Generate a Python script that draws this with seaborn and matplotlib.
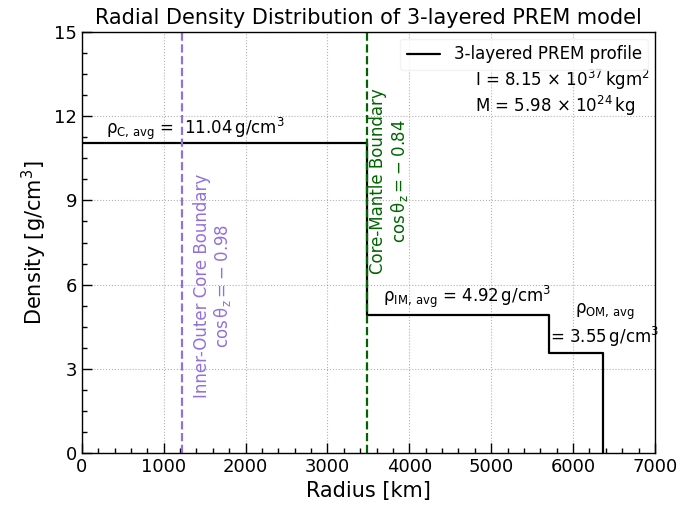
import matplotlib
matplotlib.use('Agg')
import matplotlib.pyplot as plt
import numpy as np
import pandas as pd
import seaborn as sns
from matplotlib.ticker import AutoMinorLocator, MultipleLocator

# PREM 3-layer step profile
radius = [0, 3480, 5701, 6371]
density = [11.04, 4.92, 3.55, 0.0]
r_ioc = 1221.5   # inner-outer core boundary
r_cmb = 3480     # core-mantle boundary
label_ioc = 'Inner-Outer Core Boundary\n' + r'$\cos\theta_z = -\;0.98$'
label_cmb = 'Core-Mantle Boundary\n' + r'$\cos\theta_z = -\;0.84$'
rho_labels = [r'$\rho_{\rm C,\,avg}$ =  11.04$\,$g/cm$^3$',
              r'$\rho_{\rm IM,\,avg}$ = 4.92$\,$g/cm$^3$',
              r'$\rho_{\rm OM,\,avg}$' + '\n' + r'= 3.55$\,$g/cm$^3$']

df = pd.DataFrame({'Radius': radius, 'Density': density})

sns.set_style('ticks')
plt.rcParams['font.family'] = ['DejaVu Sans']
plt.rcParams['mathtext.default'] = 'regular'
for k in ['text.color', 'axes.labelcolor', 'xtick.color', 'ytick.color']:
    plt.rcParams[k] = 'black'

fig = plt.figure(figsize=(6.88, 5.09), dpi=100)
ax = fig.add_axes([0.119, 0.110, 0.833, 0.827])

sns.lineplot(data=df, x='Radius', y='Density', drawstyle='steps-post',
             sort=False, estimator=None, color='black', lw=1.6,
             label='3-layered PREM profile', ax=ax)

ax.axvline(r_ioc, color='mediumpurple', ls='--', lw=1.6)
ax.axvline(r_cmb, color='darkgreen', ls='--', lw=1.6)

ax.text(1600, 5.95, label_ioc, rotation=90, color='mediumpurple',
        ha='center', va='center', fontsize=12, linespacing=1.1)
ax.text(3760, 9.7, label_cmb, rotation=90, color='darkgreen',
        ha='center', va='center', fontsize=12, linespacing=1.1)

ax.text(290, 11.1, rho_labels[0], fontsize=12, ha='left', va='bottom')
ax.text(3680, 5.1, rho_labels[1], fontsize=12, ha='left', va='bottom')
ax.text(6390, 4.55, rho_labels[2], fontsize=12, ha='center', va='center',
        linespacing=1.2)

ax.text(4800, 13.3, r'I = 8.15 $\times$ 10$^{37}$$\,$kgm$^2$', fontsize=12,
        ha='left', va='center')
ax.text(4800, 12.35, r'M = 5.98 $\times$ 10$^{24}$$\,$kg', fontsize=12,
        ha='left', va='center')

leg = ax.legend(loc='upper right', fontsize=12, handlelength=2.0,
                framealpha=0.8, fancybox=True, borderaxespad=0.4)
leg.get_frame().set_edgecolor('#f0f0f0')

ax.set_xlim(0, 7000)
ax.set_ylim(0, 15)
ax.xaxis.set_major_locator(MultipleLocator(1000))
ax.yaxis.set_major_locator(MultipleLocator(3))
ax.xaxis.set_minor_locator(AutoMinorLocator())
ax.yaxis.set_minor_locator(AutoMinorLocator())
ax.tick_params(which='both', direction='in', labelsize=13)
ax.tick_params(which='major', length=7, width=1)
ax.tick_params(which='minor', length=3.5, width=1)
ax.grid(True, which='major', ls=':', color='gray', alpha=0.6)
for sp in ax.spines.values():
    sp.set_color('black')
    sp.set_linewidth(1)

ax.set_xlabel('Radius [km]', fontsize=15)
ax.set_ylabel('Density [g/cm$^3$]', fontsize=15)
ax.set_title('Radial Density Distribution of 3-layered PREM model', fontsize=15)

fig.savefig('out.png', dpi=100)
